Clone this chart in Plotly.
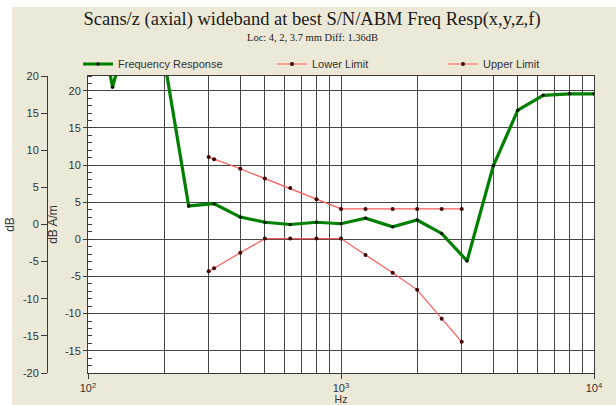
import plotly.graph_objects as go

# ---------------- data ----------------
fr_freq = [100, 125, 160, 200, 250, 315, 400, 500, 630, 800, 1000, 1250,
           1600, 2000, 2500, 3150, 4000, 5000, 6300, 8000, 10000]
fr_db = [38.0, 20.5, 34.0, 24.3, 4.5, 4.8, 3.0, 2.3, 2.0, 2.3, 2.1, 2.85,
         1.7, 2.6, 0.8, -2.9, 9.9, 17.4, 19.4, 19.6, 19.6]

lim_freq = [300, 315, 400, 500, 630, 800, 1000, 1250, 1600, 2000, 2500, 3000]
lower_db = [-4.3, -3.9, -1.8, 0.1, 0.1, 0.1, 0.1, -2.1, -4.5, -6.8, -10.7, -13.8]
upper_db = [11.1, 10.8, 9.5, 8.2, 6.9, 5.4, 4.1, 4.1, 4.1, 4.1, 4.1, 4.1]

x_major_vals = [100, 1000, 10000]
x_major_text = ["10<sup>2</sup>", "10<sup>3</sup>", "10<sup>4</sup>"]
x_minor_vals = [200, 300, 400, 500, 600, 700, 800, 900,
                2000, 3000, 4000, 5000, 6000, 7000, 8000, 9000]
y_vals = [-15, -10, -5, 0, 5, 10, 15, 20]
y_text = ["-15", "-10", "-5", "0", "5", "10", "15", "20"]
y2_vals = [-20, -15, -10, -5, 0, 5, 10, 15, 20]
y2_text = ["-20", "-15", "-10", "-5", "0", "5", "10", "15", "20"]

title_text = "Scans/z (axial) wideband at best S/N/ABM Freq Resp(x,y,z,f)"
subtitle_text = "Loc: 4, 2, 3.7 mm Diff: 1.36dB"

# ---------------- style ----------------
W, H = 616, 405
ML, MR, MT, MB = 47, 22, 76, 32
PW = W - ML - MR
PH = H - MT - MB
BEIGE = "#ece9d8"
GRID = "#464646"
AXC = "#3a3a3a"
TXT = "#333333"
SANS = "Liberation Sans, Arial, sans-serif"
SERIF = "Liberation Serif, Times New Roman, serif"


def px_x(p):
    return (p - ML) / PW


def px_y(p):
    return (H - MB - p) / PH


fig = go.Figure()

fig.add_trace(go.Scatter(
    x=fr_freq, y=fr_db, name="Frequency Response", mode="lines+markers",
    line=dict(color="#008000", width=3.2),
    marker=dict(color="#001a00", size=3.5),
    legend="legend"))
fig.add_trace(go.Scatter(
    x=lim_freq, y=lower_db, name="Lower Limit", mode="lines+markers",
    line=dict(color="#ff5a5a", width=1.2),
    marker=dict(color="#400000", size=4),
    legend="legend2"))
fig.add_trace(go.Scatter(
    x=lim_freq, y=upper_db, name="Upper Limit", mode="lines+markers",
    line=dict(color="#ff5a5a", width=1.2),
    marker=dict(color="#400000", size=4),
    legend="legend3"))
# helper so that the outer dB axis is rendered
fig.add_trace(go.Scatter(x=[], y=[], yaxis="y2", showlegend=False,
                         hoverinfo="skip"))

leg_common = dict(orientation="h", xanchor="left", yanchor="middle",
                  bgcolor="rgba(0,0,0,0)", font=dict(family=SANS, size=11, color=TXT),
                  itemwidth=30)

fig.update_layout(
    width=W, height=H,
    margin=dict(l=ML, r=MR, t=MT, b=MB, pad=0, autoexpand=False),
    paper_bgcolor=BEIGE, plot_bgcolor="white",
    title=dict(
        text=title_text,
        font=dict(family=SERIF, size=18.5, color="#1a1a1a"),
        x=312 / W, xanchor="center", xref="container",
        y=1 - 19 / H, yanchor="middle", yref="container",
    ),
    annotations=[
        dict(text=subtitle_text, xref="paper", yref="paper",
             x=px_x(312), y=px_y(37), xanchor="center", yanchor="middle",
             showarrow=False,
             font=dict(family=SERIF, size=10.5, color="#1a1a1a")),
    ],
    legend=dict(x=px_x(78), y=px_y(64), **leg_common),
    legend2=dict(x=px_x(272), y=px_y(64), **leg_common),
    legend3=dict(x=px_x(443), y=px_y(64), **leg_common),
    xaxis=dict(
        type="log", range=[2, 4], domain=[px_x(88), 1],
        tickmode="array", tickvals=x_major_vals, ticktext=x_major_text,
        ticks="outside", ticklen=5, tickcolor=AXC, ticklabelstandoff=0,
        tickfont=dict(family=SANS, size=11, color=TXT),
        showgrid=True, gridcolor=GRID, gridwidth=1,
        minor=dict(tickmode="array", tickvals=x_minor_vals, ticks="",
                   showgrid=True, gridcolor=GRID, gridwidth=1),
        showline=True, linecolor=AXC, linewidth=1, mirror=True,
        zeroline=False,
        title=dict(text="Hz", font=dict(family=SANS, size=10.5, color=TXT),
                   standoff=1),
    ),
    yaxis=dict(
        range=[-18, 22],
        tickmode="array", tickvals=y_vals, ticktext=y_text,
        ticks="outside", ticklen=4, tickcolor=AXC,
        tickfont=dict(family=SANS, size=11, color=TXT),
        showgrid=True, gridcolor=GRID, gridwidth=1,
        minor=dict(tickmode="linear", tick0=0, dtick=1, ticks="inside",
                   ticklen=4, tickcolor=AXC, showgrid=False),
        showline=True, linecolor=AXC, linewidth=1, mirror=True,
        zeroline=False,
        title=dict(text="dB A/m", font=dict(family=SANS, size=12, color=TXT),
                   standoff=4),
    ),
    yaxis2=dict(
        overlaying="y", anchor="free", position=0, side="left",
        range=[-20, 20],
        tickmode="array", tickvals=y2_vals, ticktext=y2_text,
        ticks="outside", ticklen=6, tickcolor=AXC,
        tickfont=dict(family=SANS, size=11, color=TXT),
        showgrid=False, zeroline=False,
        showline=True, linecolor=AXC, linewidth=1,
        title=dict(text="dB", font=dict(family=SANS, size=12, color=TXT),
                   standoff=4),
    ),
    shapes=[
        dict(type="rect", xref="paper", yref="paper", layer="below",
             x0=px_x(0), x1=px_x(12), y0=px_y(405), y1=px_y(0),
             fillcolor="white", line=dict(width=0)),
        dict(type="rect", xref="paper", yref="paper", layer="below",
             x0=px_x(0), x1=px_x(616), y0=px_y(7), y1=px_y(0),
             fillcolor="white", line=dict(width=0)),
    ],
    showlegend=True,
)

fig.write_html(
    "out.html",
    config={"displayModeBar": False},
    post_script="document.body.style.margin='0';document.body.style.padding='0';",
)
